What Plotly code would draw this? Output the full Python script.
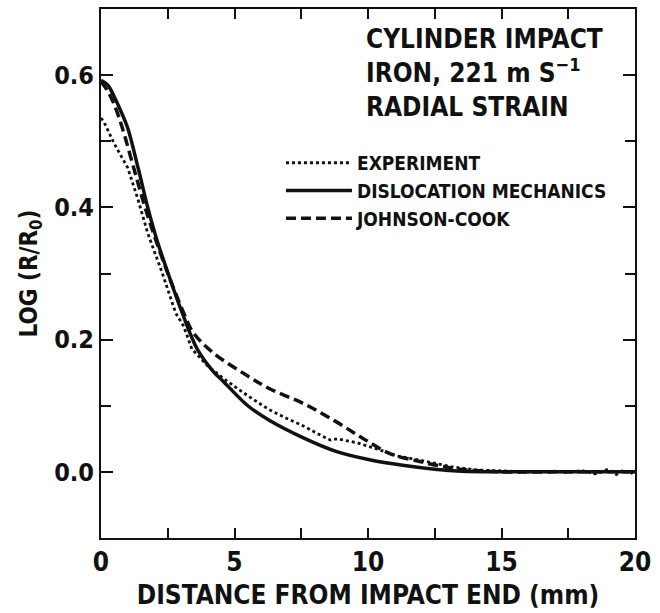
import plotly.graph_objects as go

# Experiment (dotted)
exp_x = [0, 0.1, 0.5, 1.0, 1.4, 1.75, 2.3, 2.8, 3.1, 3.4, 4.0, 4.6, 5.5, 6.3, 7.0, 7.6, 8.2, 8.6, 8.85, 9.6, 10.45, 11.1, 11.9, 13.1, 14.0, 15.0, 16.0, 17.0, 17.5, 18.0, 18.5, 19.0, 19.3, 19.6, 19.8, 20.0]
exp_y = [0.535, 0.530, 0.496, 0.460, 0.410, 0.361, 0.300, 0.240, 0.220, 0.186, 0.160, 0.141, 0.115, 0.094, 0.080, 0.069, 0.056, 0.048, 0.050, 0.044, 0.033, 0.024, 0.018, 0.008, 0.003, 0.001, 0.000, 0.001, -0.001, 0.002, -0.003, 0.004, -0.004, 0.003, -0.003, 0.001]

# Dislocation mechanics (solid)
dm_x = [0, 0.25, 0.5, 0.75, 1.0, 1.4, 1.75, 2.1, 2.6, 3.0, 3.6, 4.2, 4.6, 5.5, 6.3, 7.6, 8.8, 10.1, 11.3, 12.5, 13.5, 15, 17, 20]
dm_y = [0.592, 0.585, 0.567, 0.545, 0.520, 0.458, 0.400, 0.350, 0.290, 0.245, 0.186, 0.152, 0.136, 0.100, 0.078, 0.051, 0.031, 0.018, 0.010, 0.004, 0.001, 0.0, 0.0, 0.0]

# Johnson-Cook (dashed)
jc_x = [0, 0.25, 0.5, 0.8, 1.25, 1.65, 2.1, 2.6, 3.1, 3.45, 4.2, 5.5, 6.3, 7.6, 8.8, 9.8, 10.8, 11.9, 13.1, 14.0, 15.0, 17.0, 20.0]
jc_y = [0.590, 0.576, 0.555, 0.520, 0.456, 0.400, 0.345, 0.290, 0.240, 0.211, 0.180, 0.145, 0.126, 0.103, 0.076, 0.051, 0.028, 0.016, 0.006, 0.002, 0.0, 0.0, 0.0]

FONT = "DejaVu Sans Condensed, Roboto, Liberation Sans, sans-serif"

fig = go.Figure()
fig.add_trace(go.Scatter(x=exp_x, y=exp_y, mode="lines", name="EXPERIMENT",
                         line=dict(color="#111", width=2.8, dash="dot")))
fig.add_trace(go.Scatter(x=dm_x, y=dm_y, mode="lines", name="DISLOCATION MECHANICS",
                         line=dict(color="#111", width=3.5, shape="spline")))
fig.add_trace(go.Scatter(x=jc_x, y=jc_y, mode="lines", name="JOHNSON-COOK",
                         line=dict(color="#111", width=3.5, dash="10px,5px", shape="spline")))

fig.update_layout(
    width=660, height=613,
    margin=dict(l=101, r=25, t=7, b=75),
    paper_bgcolor="white", plot_bgcolor="white",
    font=dict(family=FONT, color="#111", weight="bold"),
    showlegend=True,
    legend=dict(x=0.337, y=0.745, xanchor="left", yanchor="top",
                font=dict(family=FONT, size=19, color="#111", weight="bold"),
                itemwidth=66, bgcolor="rgba(0,0,0,0)", tracegroupgap=0),
    annotations=[
        dict(xref="paper", yref="paper", x=0.492, y=0.976, xanchor="left", yanchor="top",
             align="left", showarrow=False,
             text="CYLINDER IMPACT<br>IRON, 221 m S<sup>−1</sup><br>RADIAL STRAIN",
             font=dict(family=FONT, size=26, color="#111", weight="bold")),
    ],
)

fig.update_xaxes(range=[0, 20], tickvals=[0, 5, 10, 15, 20], ticks="inside", ticklen=10,
                 tickwidth=2, tickcolor="#111",
                 minor=dict(dtick=2.5, ticks="inside", ticklen=10, tickwidth=2, tickcolor="#111"),
                 showline=True, linecolor="#111", linewidth=2, mirror="ticks",
                 showgrid=False, zeroline=False,
                 tickfont=dict(family=FONT, size=26, color="#111", weight="bold"),
                 title=dict(text="DISTANCE FROM IMPACT END (mm)", standoff=10,
                            font=dict(family=FONT, size=26, color="#111", weight="bold")))
fig.update_yaxes(range=[-0.1, 0.7], tickvals=[0.0, 0.2, 0.4, 0.6], tickformat=".1f",
                 ticks="inside", ticklen=12, tickwidth=2, tickcolor="#111",
                 minor=dict(dtick=0.1, ticks="inside", ticklen=10, tickwidth=2, tickcolor="#111"),
                 showline=True, linecolor="#111", linewidth=2, mirror="ticks",
                 showgrid=False, zeroline=False,
                 tickfont=dict(family=FONT, size=25, color="#111", weight="bold"),
                 title=dict(text="LOG (R/R<sub>0</sub>)", standoff=10,
                            font=dict(family=FONT, size=24, color="#111", weight="bold")))

fig.write_html("out.html")
